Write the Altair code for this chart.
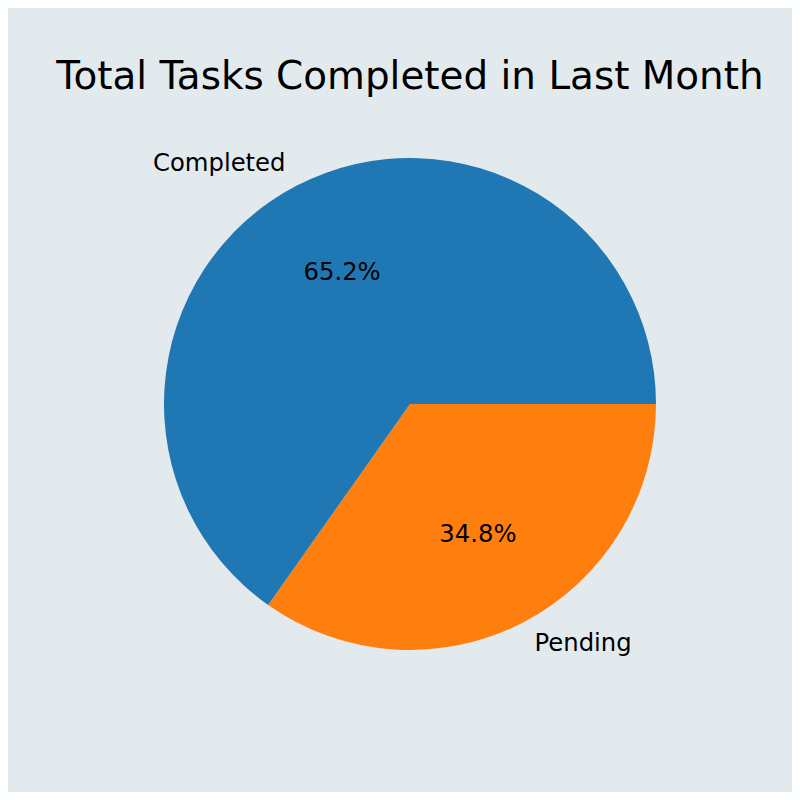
import math
import altair as alt
import pandas as pd

categories = ["Pending", "Completed"]
values = [8, 15]
order = [0, 1]
colors = ["#ff7f0e", "#1f77b4"]
title_text = "Total Tasks Completed in Last Month"

total = sum(values)
pct = [f"{v / total * 100:.1f}%" for v in values]
df = pd.DataFrame({"cat": categories, "val": values, "ord": order, "pct": pct})

CX, CY, R = 402, 396, 246
FONT = "DejaVu Sans"
BG = "#e3eaee"
LBL = 24.3

theta_scale = alt.Scale(range=[math.pi / 2, math.pi / 2 + 2 * math.pi])
base = alt.Chart(df)

theta_enc = alt.Theta("val:Q", stack=True, scale=theta_scale)

arcs = base.mark_arc(radius=R, stroke=None).encode(
    theta=theta_enc,
    order=alt.Order("ord:Q"),
    color=alt.Color("cat:N", scale=alt.Scale(domain=categories, range=colors), legend=None),
    x=alt.value(CX),
    y=alt.value(CY),
)

pct_text = base.mark_text(font=FONT, fontSize=LBL, align="center", baseline="middle", color="black").encode(
    theta=theta_enc,
    order=alt.Order("ord:Q"),
    radius=alt.value(R * 0.6),
    text="pct:N",
    x=alt.value(CX),
    y=alt.value(CY),
)

lab_left = base.mark_text(
    font=FONT, fontSize=LBL, align="right", baseline="middle", color="black"
).encode(
    theta=theta_enc,
    order=alt.Order("ord:Q"),
    radius=alt.value(R * 1.1),
    text=alt.condition(alt.datum.cat == "Completed", alt.Text("cat:N"), alt.value("")),
    x=alt.value(CX),
    y=alt.value(CY),
)

lab_right = base.mark_text(
    font=FONT, fontSize=LBL, align="left", baseline="middle", color="black"
).encode(
    theta=theta_enc,
    order=alt.Order("ord:Q"),
    radius=alt.value(R * 1.1),
    text=alt.condition(alt.datum.cat == "Pending", alt.Text("cat:N"), alt.value("")),
    x=alt.value(CX),
    y=alt.value(CY),
)

title_df = pd.DataFrame({"t": [title_text]})
title = alt.Chart(title_df).mark_text(
    font=FONT, fontSize=38.9, align="center", baseline="alphabetic", color="black"
).encode(text="t:N", x=alt.value(402), y=alt.value(81))

chart = alt.layer(arcs, pct_text, lab_left, lab_right, title).properties(
    width=784, height=784, padding=0, autosize="none", background=BG
).configure_view(stroke=None)

chart.save("out.html", embed_options={"renderer": "svg", "actions": False})
